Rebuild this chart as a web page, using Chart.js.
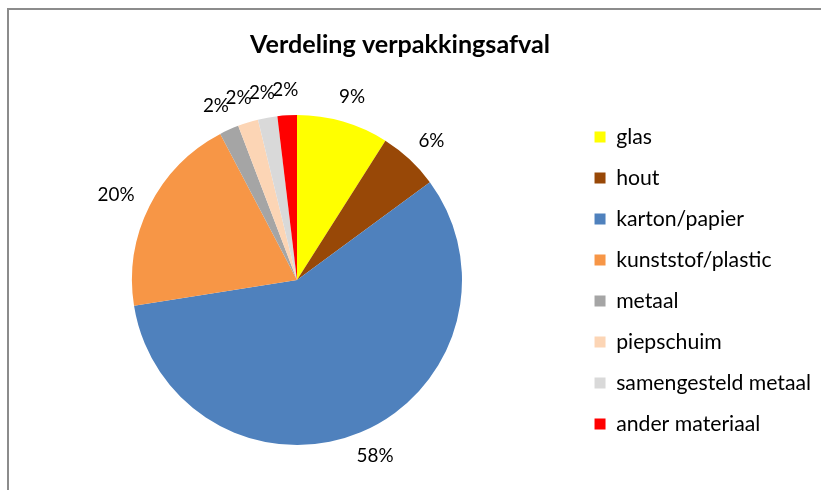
<!DOCTYPE html>
<html><head><meta charset="utf-8">
<script src="https://cdn.jsdelivr.net/npm/chart.js@4.4.1/dist/chart.umd.min.js"></script>
<style>
html,body{margin:0;padding:0;background:#fff;overflow:hidden;}
#wrap{position:relative;width:821px;height:490px;overflow:hidden;}
#frame{position:absolute;left:7px;top:8px;width:900px;height:600px;border:2px solid #8c8c8c;box-sizing:border-box;}
canvas{position:absolute;left:0;top:0;}
</style></head><body>
<div id="wrap"><div id="frame"></div><canvas id="c" width="821" height="490"></canvas></div>
<script>
// ---- data ----
const chartTitle = 'Verdeling verpakkingsafval';
const categories = ['glas', 'hout', 'karton/papier', 'kunststof/plastic', 'metaal', 'piepschuim', 'samengesteld metaal', 'ander materiaal'];
const shares = [9.0, 5.9, 57.6, 19.8, 1.9, 2.0, 1.9, 1.9];
const sliceColors = ['#FFFF00', '#984807', '#4F81BD', '#F79646', '#A5A5A5', '#FCD5B5', '#D9D9D9', '#FF0000'];

// ---- fonts sized to the reference widths ----
const FAMILY = 'Lato, "Liberation Sans", sans-serif';
const mctx = document.createElement('canvas').getContext('2d');
function textW(text, weight, size) {
  mctx.font = weight + ' ' + size + 'px ' + FAMILY;
  return mctx.measureText(text).width;
}
function fitSize(text, weight, target) {
  return 100 * target / textW(text, weight, 100);
}
const titleSize = fitSize(chartTitle, 'bold', 300);
const legendSize = fitSize('samengesteld metaal', 'normal', 195);
const labelSize = fitSize('58%', 'normal', 37);

// ---- layout ----
const ITEM = 41;                 // legend row step
const BOX = 11;
const legPad = ITEM - legendSize;
const maxLabelW = Math.max(...categories.map(c => textW(c, 'normal', legendSize)));
const legendW = legPad + BOX + legendSize / 2 + maxLabelW + 10;
const padR = 0;
const legendLeft = 821 - padR - legendW;
const padL = 2 * 297 - legendLeft;   // pie centred at x=297
const tLH = titleSize * 1.2;
const tTop = 45 - tLH / 2;
const tBottom = 115 - tTop - tLH;

const titleCentre = {
  id: 'titleCentre',
  afterLayout(chart) {
    const tb = chart.titleBlock;
    const shift = 400 - (tb.left + tb.right) / 2;
    tb.left += shift; tb.right += shift;
  }
};

const pctLabels = {
  id: 'pctLabels',
  afterDatasetsDraw(chart) {
    const ctx = chart.ctx;
    const meta = chart.getDatasetMeta(0);
    const vals = chart.data.datasets[0].data;
    const total = vals.reduce((a, b) => a + b, 0);
    ctx.save();
    ctx.font = labelSize + 'px ' + FAMILY;
    ctx.fillStyle = '#000';
    ctx.textAlign = 'center';
    ctx.textBaseline = 'middle';
    meta.data.forEach((arc, i) => {
      const p = arc.getProps(['x', 'y', 'startAngle', 'endAngle', 'outerRadius'], true);
      const mid = (p.startAngle + p.endAngle) / 2;
      const ux = Math.cos(mid), uy = Math.sin(mid);
      const text = Math.round(vals[i] / total * 100) + '%';
      const w = ctx.measureText(text).width;
      const h = labelSize * 0.7;
      const r = p.outerRadius + 19;
      ctx.fillText(text, p.x + ux * r + ux * w / 2, p.y + uy * r + uy * h / 2);
    });
    ctx.restore();
  }
};

new Chart(document.getElementById('c'), {
  type: 'pie',
  data: {
    labels: categories,
    datasets: [{ data: shares, backgroundColor: sliceColors, borderWidth: 0 }]
  },
  options: {
    responsive: false,
    animation: false,
    layout: { padding: { left: padL, right: padR, top: 0, bottom: 0 } },
    plugins: {
      title: {
        display: true, text: chartTitle, color: '#000',
        font: { family: FAMILY, size: titleSize, weight: 'bold', lineHeight: 1.2 },
        padding: { top: tTop, bottom: tBottom }
      },
      subtitle: {
        display: true, text: ' ', position: 'bottom',
        font: { size: 10, lineHeight: 1.2 }, padding: { top: 33, bottom: 0 }
      },
      legend: {
        position: 'right', align: 'center',
        title: { display: true, text: ' ', font: { size: 10, lineHeight: 1.2 }, padding: { top: 59, bottom: 0 } },
        labels: {
          boxWidth: BOX, boxHeight: BOX, padding: legPad, color: '#000',
          font: { family: FAMILY, size: legendSize }
        }
      },
      tooltip: { enabled: false }
    }
  },
  plugins: [titleCentre, pctLabels]
});
</script>
</body></html>
